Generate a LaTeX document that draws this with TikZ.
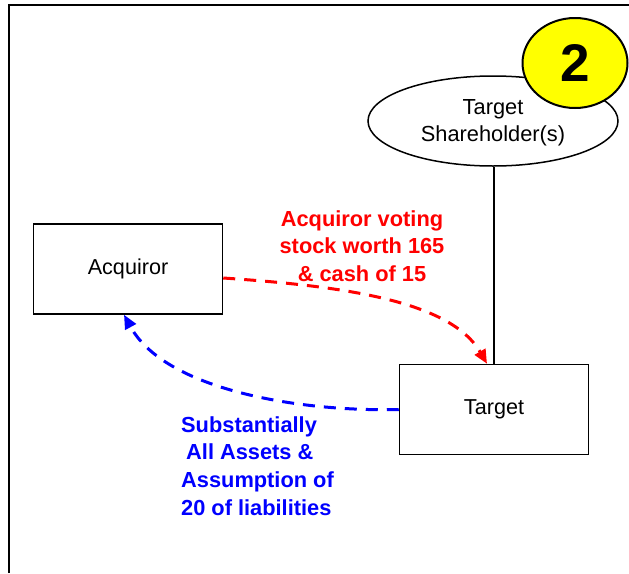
\documentclass[tikz,border=0pt]{standalone}
\usepackage{fontspec}
\setmainfont{Liberation Sans}
\usetikzlibrary{shapes.geometric,arrows.meta}
\definecolor{yel}{RGB}{255,255,0}
\definecolor{redc}{RGB}{255,0,0}
\definecolor{bluec}{RGB}{0,0,255}
\tikzset{
  box/.style={draw=black, line width=1.5pt, minimum width=189pt, minimum height=90pt, inner sep=0pt, font=\fontsize{21.6}{26}\selectfont},
  flow/.style={line width=3pt, dash pattern=on 12pt off 9pt, -{Triangle[length=14pt,width=12pt]}},
  lab/.style={font=\fontsize{21.8}{27.7}\selectfont\bfseries, inner sep=0pt},
}
\begin{document}
\begin{tikzpicture}[x=1pt,y=-1pt]
\useasboundingbox (0,0) rectangle (629,573);
% frame
\coordinate (fa) at (9,573);
\coordinate (fb) at (9,5);
\coordinate (fc) at (629,5);
\draw[line width=2.5pt] (fa) -- (fb) -- (fc);
% nodes
\node[box] (acq) at (128,269) {Acquiror};
\node[box] (tgt) at (494,409.5) {Target};
\node[ellipse, draw, line width=1.5pt, minimum width=250pt, minimum height=90pt, inner sep=0pt, align=center, font=\fontsize{21.8}{27}\selectfont] (sh) at (493,121) {\strut Target\\Shareholder(s)};
\draw[line width=1.2pt] (sh.south -| tgt.north) -- (tgt.north);
\node[ellipse, draw, fill=yel, line width=2pt, minimum width=105pt, minimum height=90pt, inner sep=0pt, font=\fontsize{53}{53}\selectfont\bfseries] (two) at (575,63) {2};
% flows
\draw[flow, redc] ([yshift=-9pt]acq.east) .. controls (340,286) and (450,300) .. ([xshift=-7pt]tgt.north);
\draw[flow, bluec] (tgt.west) .. controls (300,412) and (165,390) .. ([xshift=-4pt]acq.south);
% labels
\node[lab, text=redc, align=center] (rl) at (362,246) {Acquiror voting\\stock worth 165\\\& cash of 15};
\node[lab, text=bluec, align=left, anchor=north west] (bl) at (181,416) {Substantially\\\hspace{5pt}All Assets \&\\Assumption of\\20 of liabilities};
\end{tikzpicture}
\end{document}
